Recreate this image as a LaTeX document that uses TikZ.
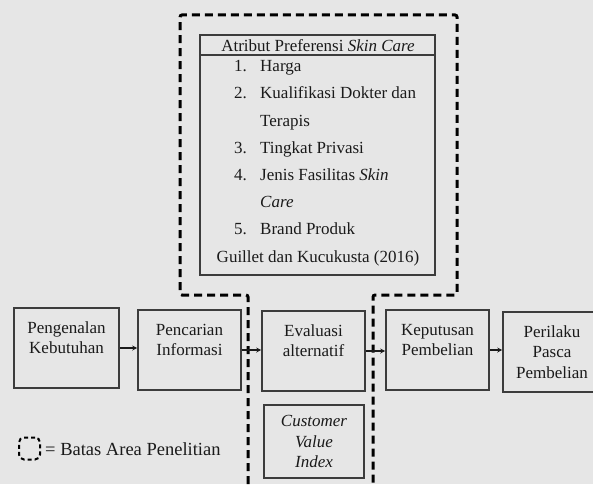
\documentclass[tikz,border=0pt]{standalone}
\usepackage{fontspec}
\setmainfont{Liberation Serif}
\usetikzlibrary{arrows.meta}
\definecolor{bg}{HTML}{E6E6E6}
\definecolor{edge}{HTML}{3C3C3C}
\definecolor{ink}{HTML}{1A1A1A}
\tikzset{
  procbox/.style={draw=edge, line width=1.6pt, fill=bg, inner sep=0pt, align=center,
    minimum width=103pt, minimum height=80pt, text=ink,
    font=\fontsize{17}{20.5}\selectfont},
  lbl/.style={inner sep=0pt, text=ink, font=\fontsize{17}{20}\selectfont},
  flow/.style={draw=ink, line width=1.4pt, -{Stealth[length=5pt,width=5pt]}},
  arealine/.style={draw=black, line width=3pt, dash pattern=on 8pt off 5pt, rounded corners=2pt},
}
\begin{document}
\begin{tikzpicture}[x=1pt,y=-1pt]
\fill[bg] (0,0) rectangle (593,484);
\useasboundingbox (0,0) rectangle (593,484);

% research area boundary
\draw[arealine] (248,484) -- (248,295) -- (180,295) -- (180,15) -- (457,15) -- (457,295) -- (373,295) -- (373,484);

% attribute box
\node[draw=edge, line width=1.6pt, inner sep=0pt, minimum width=235pt, minimum height=240pt] (attr) at (317.5,155) {};
\node[lbl, anchor=base] (hdr) at (318,52) {Atribut Preferensi \textit{Skin Care}};
\draw[edge, line width=1.6pt] (attr.west |- 0,55) -- (attr.east |- 0,55);
\node[lbl, anchor=base east] (n1) at (247,72) {1.};
\node[lbl, anchor=base west] (t1) at (260,72) {Harga};
\node[lbl, anchor=base east] (n2) at (247,99) {2.};
\node[lbl, anchor=base west] (t2) at (260,99) {Kualifikasi Dokter dan};
\node[lbl, anchor=base west] (t2b) at (260,126) {Terapis};
\node[lbl, anchor=base east] (n3) at (247,153) {3.};
\node[lbl, anchor=base west] (t3) at (260,153) {Tingkat Privasi};
\node[lbl, anchor=base east] (n4) at (247,180) {4.};
\node[lbl, anchor=base west] (t4) at (260,180) {Jenis Fasilitas \textit{Skin}};
\node[lbl, anchor=base west] (t4b) at (260,207) {\textit{Care}};
\node[lbl, anchor=base east] (n5) at (247,234) {5.};
\node[lbl, anchor=base west] (t5) at (260,234) {Brand Produk};
\node[lbl, anchor=base] (src) at (318,262) {Guillet dan Kucukusta (2016)};

% process boxes
\node[procbox, minimum width=105pt] (p1) at (66.5,348) {Pengenalan\\Kebutuhan\\\mbox{}};
\node[procbox] (p2) at (189.5,350) {Pencarian\\Informasi\\\mbox{}};
\node[procbox] (p3) at (313.5,351) {Evaluasi\\alternatif\\\mbox{}};
\node[procbox] (p4) at (437.5,350) {Keputusan\\Pembelian\\\mbox{}};
\node[procbox, minimum width=98pt] (p5) at (552,352) {Perilaku\\Pasca\\Pembelian};
\node[procbox, minimum width=100pt, minimum height=73pt, font=\fontsize{17}{20.5}\selectfont\itshape] (cvi) at (314,441.5) {Customer\\Value\\Index};

% arrows
\draw[flow] (p1.east) -- (p1.east -| p2.west);
\draw[flow] (p2.east) -- (p2.east -| p3.west);
\draw[flow] (p3.east) -- (p3.east -| p4.west);
\draw[flow] (p4.east) -- (p4.east -| p5.west);

% legend
\node[draw=black, line width=2pt, dash pattern=on 4pt off 3pt, rounded corners=5pt, minimum width=21pt, minimum height=22pt, inner sep=0pt] (leg) at (29.5,448.5) {};
\node[lbl, anchor=base west, font=\fontsize{18.5}{20}\selectfont] (legtxt) at (45,455) {= Batas Area Penelitian};
\end{tikzpicture}
\end{document}
